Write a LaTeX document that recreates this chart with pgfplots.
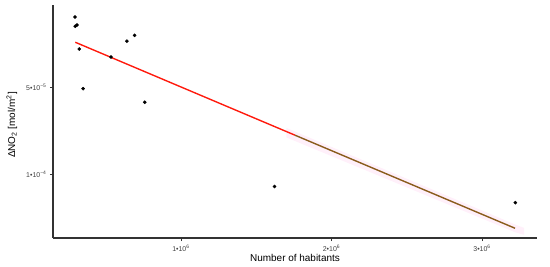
\documentclass[border=0pt]{standalone}
\usepackage{fontspec}
\setmainfont{Liberation Sans}
\usepackage{pgfplots}
\pgfplotsset{compat=1.18}
\definecolor{fitred}{HTML}{FF1A0D}
\definecolor{fitbrown}{HTML}{8A5C1C}
\definecolor{bandpink}{HTML}{FFF0FA}
\definecolor{axgray}{HTML}{333333}
\begin{document}
\begin{tikzpicture}
\useasboundingbox (0,0) rectangle (550bp,267bp);
\begin{axis}[
  at={(53bp,29bp)}, anchor=south west,
  width=484bp, height=233bp, scale only axis,
  xmin=150000, xmax=3365000,
  ymin=0.29e-5, ymax=13.68e-5,
  y dir=reverse,
  scaled ticks=false,
  axis x line=bottom, axis y line=left,
  axis line style={-, color=axgray, line width=1.1pt},
  tick align=outside, major tick length=3bp,
  tick style={color=axgray, line width=0.6pt},
  xtick={1000000,2000000,3000000},
  xticklabels={{1•10\textsuperscript{6}},{2•10\textsuperscript{6}},{3•10\textsuperscript{6}}},
  ytick={5e-5,1e-4},
  yticklabels={{5•10\textsuperscript{−5}},{1•10\textsuperscript{−4}}},
  ticklabel style={font=\fontsize{7}{8}\selectfont, color=black!75},
  xlabel={Number of habitants},
  ylabel={ΔNO\textsubscript{2} [mol/m\textsuperscript{2}]},
  label style={font=\fontsize{10}{12}\selectfont},
  xlabel style={at={(axis description cs:0.5,-0.086)}, anchor=center},
  ylabel style={at={(axis description cs:-0.085,0.485)}, anchor=center},
  clip=false,
]
% faint confidence band (pink)
\addplot[draw=none, fill=bandpink] coordinates {
  (1700000,7.35e-5) (3219000,12.9e-5) (3280000,13.1e-5) (3280000,13.5e-5) (3219000,13.35e-5) (1700000,7.9e-5)
} -- cycle;
% regression line
\addplot[color=fitred, line width=1.4pt] coordinates {
  (298000,2.431e-5) (1757000,7.77e-5)
};
\addplot[color=fitbrown, line width=1.4pt] coordinates {
  (1757000,7.77e-5) (3219000,13.12e-5)
};
% observations
\addplot[only marks, mark=*, mark size=1.6pt, color=black] coordinates {
  (296000,0.98e-5)
  (298000,1.51e-5)
  (309000,1.44e-5)
  (325000,2.82e-5)
  (350000,5.10e-5)
  (535000,3.28e-5)
  (641000,2.37e-5)
  (692000,2.03e-5)
  (759000,5.88e-5)
  (1622000,10.72e-5)
  (3221000,11.65e-5)
};
\end{axis}
\end{tikzpicture}
\end{document}
